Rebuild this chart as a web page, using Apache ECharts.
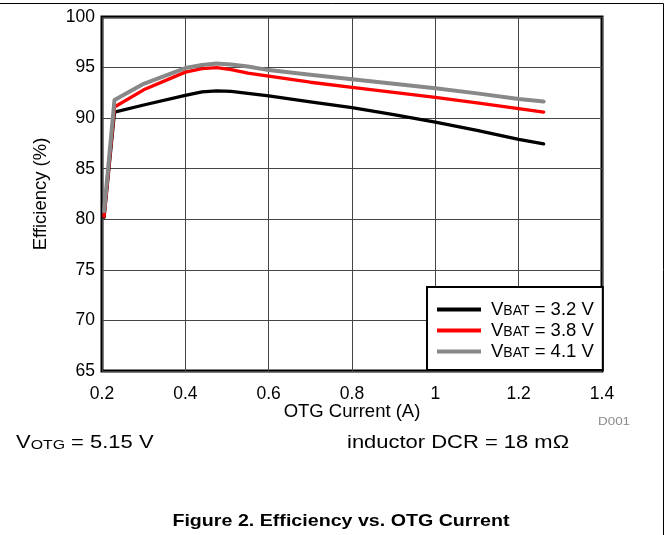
<!DOCTYPE html>
<html>
<head>
<meta charset="utf-8">
<script src="https://cdn.jsdelivr.net/npm/echarts@6/dist/echarts.min.js"></script>
<style>
html,body{margin:0;padding:0;background:#fff;}
#c{width:669px;height:535px;}
</style>
</head>
<body>
<div id="c"></div>
<script>
const current = [0.205, 0.23, 0.3, 0.4, 0.44, 0.475, 0.51, 0.55, 0.6, 0.7, 0.8, 0.9, 1.0, 1.1, 1.2, 1.26];
const eff32 = [80.2, 90.6, 91.3, 92.25, 92.6, 92.7, 92.65, 92.45, 92.2, 91.6, 91.05, 90.35, 89.6, 88.8, 87.9, 87.45];
const eff38 = [80.3, 91.1, 92.8, 94.55, 94.9, 95.0, 94.8, 94.45, 94.15, 93.55, 93.05, 92.55, 92.05, 91.5, 90.95, 90.6];
const eff41 = [80.8, 91.8, 93.4, 94.95, 95.25, 95.4, 95.3, 95.1, 94.75, 94.3, 93.85, 93.4, 92.95, 92.45, 91.9, 91.65];
const seriesNames = ['3.2', '3.8', '4.1'];
const xTicks = [0.2, 0.4, 0.6, 0.8, 1, 1.2, 1.4];
const yTicks = [65, 70, 75, 80, 85, 90, 95, 100];

const FONT = '"Liberation Sans", Arial, sans-serif';
const chart = echarts.init(document.getElementById('c'));
const pair = (xs, ys) => xs.map((x, i) => [x, ys[i]]);
const colors = ['#000000', '#ff0000', '#888888'];
const dataSets = [eff32, eff38, eff41];
const SX = 1.22;

chart.setOption({
  animation: false,
  backgroundColor: '#ffffff',
  grid: { left: 102, top: 17, right: 67, bottom: 164, show: true, borderColor: '#000', borderWidth: 3, backgroundColor: 'transparent' },
  xAxis: {
    type: 'value', min: xTicks[0], max: xTicks[xTicks.length - 1], interval: 0.2,
    name: 'OTG Current (A)', nameLocation: 'middle', nameGap: 31, nameMoveOverlap: false,
    nameTextStyle: { fontFamily: FONT, fontSize: 18.5, color: '#000' },
    axisLine: { show: false }, axisTick: { show: false },
    axisLabel: { fontFamily: FONT, fontSize: 17.5, color: '#000', margin: 14,
      formatter: v => String(parseFloat(v.toFixed(1))) },
    splitLine: { show: true, lineStyle: { color: '#444', width: 1 } }
  },
  yAxis: {
    type: 'value', min: yTicks[0], max: yTicks[yTicks.length - 1], interval: 5,
    name: 'Efficiency (%)', nameLocation: 'middle', nameGap: 52, nameMoveOverlap: false,
    nameTextStyle: { fontFamily: FONT, fontSize: 18.5, color: '#000' },
    axisLine: { show: false }, axisTick: { show: false },
    axisLabel: { fontFamily: FONT, fontSize: 17.5, color: '#000', margin: 7 },
    splitLine: { show: true, lineStyle: { color: '#444', width: 1 } }
  },
  legend: {
    orient: 'vertical', left: 427, top: 287,
    backgroundColor: '#fff', borderColor: '#000', borderWidth: 2,
    padding: [13, 9, 9, 10], itemGap: 2,
    icon: 'rect', itemWidth: 44, itemHeight: 4,
    data: seriesNames,
    formatter: n => '{p|V}{s|BAT}{v| = ' + n + ' V}',
    textStyle: {
      fontFamily: FONT, color: '#000',
      rich: {
        p: { fontFamily: FONT, fontSize: 18.5, lineHeight: 17, color: '#000', padding: [0, 0, 0, 5] },
        v: { fontFamily: FONT, fontSize: 18.5, lineHeight: 17, color: '#000' },
        s: { fontFamily: FONT, fontSize: 14, lineHeight: 11, verticalAlign: 'bottom', color: '#000' }
      }
    }
  },
  series: dataSets.map((d, i) => ({
    name: seriesNames[i], type: 'line', data: pair(current, d),
    showSymbol: false, symbol: 'none', smooth: false,
    color: colors[i],
    lineStyle: { color: colors[i], width: i === 2 ? 4 : 3.3, cap: 'round', join: 'round' },
    z: 3 + i
  })),
  graphic: [
    { type: 'line', shape: { x1: 0, y1: 3.5, x2: 663.5, y2: 3.5 }, style: { stroke: '#000', lineWidth: 1 } },
    { type: 'line', shape: { x1: 663.5, y1: 3.5, x2: 663.5, y2: 535 }, style: { stroke: '#000', lineWidth: 1 } },
    { type: 'text', x: 598, y: 422, scaleX: SX, style: { text: 'D001', x: 0, y: 0, verticalAlign: 'middle', fontFamily: FONT, fontSize: 11, fill: '#8a8a8a' } },
    { type: 'text', x: 16, y: 443, scaleX: SX, style: {
        text: '{v|V}{s|OTG}{v| = 5.15 V}', x: 0, y: 0, verticalAlign: 'middle', fontFamily: FONT,
        rich: {
          v: { fontFamily: FONT, fontSize: 18, lineHeight: 18, fill: '#000' },
          s: { fontFamily: FONT, fontSize: 13, lineHeight: 11, verticalAlign: 'bottom', fill: '#000' }
        } } },
    { type: 'text', x: 347, y: 443, scaleX: SX, style: { text: 'inductor DCR = 18 mΩ', x: 0, y: 0, verticalAlign: 'middle', fontFamily: FONT, fontSize: 18, fill: '#000' } },
    { type: 'text', x: 341, y: 521, scaleX: 1.155, style: { text: 'Figure 2. Efficiency vs. OTG Current', x: 0, y: 0, align: 'center', verticalAlign: 'middle', fontFamily: FONT, fontSize: 17, fontWeight: 'bold', fill: '#000' } }
  ]
});
</script>
</body>
</html>
